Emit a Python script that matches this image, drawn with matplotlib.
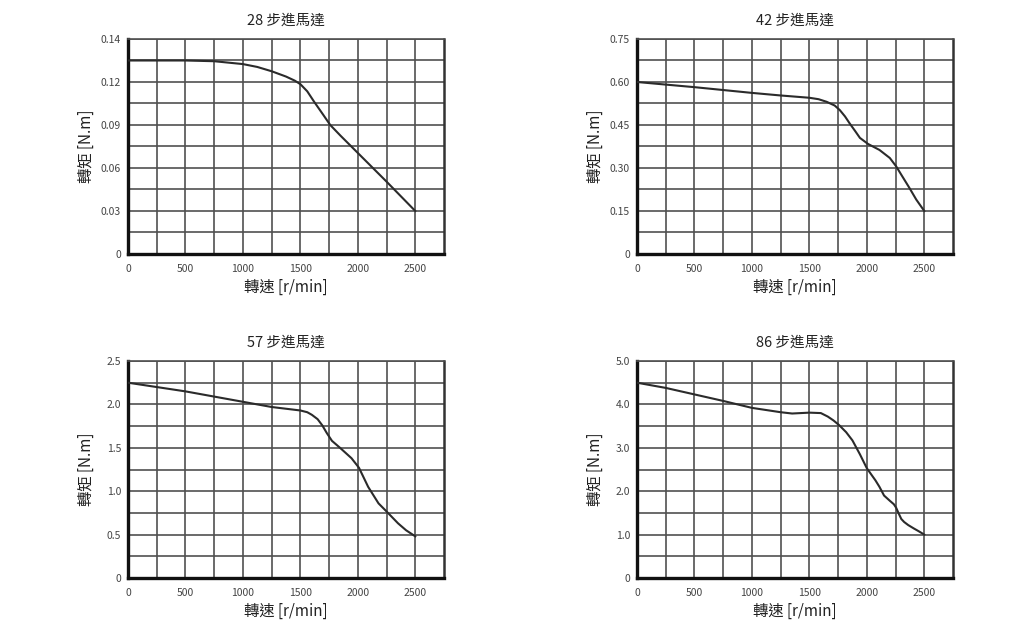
import matplotlib
matplotlib.use("Agg")
import matplotlib.pyplot as plt
import numpy as np

plt.rcParams["font.family"] = ["Noto Sans CJK TC", "DejaVu Sans"]

# ---- data ----
titles = ["28 步進馬達", "42 步進馬達", "57 步進馬達", "86 步進馬達"]

speed_28 = [0, 250, 500, 750, 1000, 1125, 1250, 1375, 1450, 1500, 1560, 1620, 1700,
            1760, 1850, 2000, 2250, 2500]
torque_28 = [0.135, 0.135, 0.135, 0.1345, 0.1325, 0.1305, 0.1275, 0.1238, 0.1210,
             0.1185, 0.1135, 0.1062, 0.097, 0.090, 0.0825, 0.0705, 0.0505, 0.030]

speed_42 = [0, 250, 500, 750, 1000, 1250, 1500, 1580, 1650, 1720, 1765, 1810, 1850,
            1900, 1940, 2010, 2110, 2200, 2255, 2310, 2370, 2430, 2500]
torque_42 = [0.600, 0.591, 0.582, 0.572, 0.562, 0.553, 0.545, 0.540, 0.531, 0.518,
             0.502, 0.480, 0.456, 0.428, 0.405, 0.384, 0.363, 0.335, 0.306, 0.270,
             0.231, 0.190, 0.150]

speed_57 = [0, 250, 500, 750, 1000, 1250, 1500, 1560, 1600, 1650, 1690, 1730, 1775,
            1845, 1945, 2010, 2050, 2090, 2180, 2255, 2350, 2420, 2500]
torque_57 = [2.25, 2.20, 2.15, 2.09, 2.03, 1.97, 1.93, 1.91, 1.88, 1.83, 1.76, 1.67,
             1.58, 1.50, 1.38, 1.27, 1.16, 1.05, 0.86, 0.76, 0.63, 0.55, 0.48]

speed_86 = [0, 250, 500, 750, 1000, 1250, 1350, 1500, 1600, 1660, 1710, 1760, 1820,
            1875, 1940, 2000, 2040, 2075, 2110, 2150, 2200, 2235, 2255, 2275, 2300,
            2325, 2360, 2410, 2450, 2500]
torque_86 = [4.50, 4.38, 4.23, 4.08, 3.92, 3.82, 3.79, 3.81, 3.80, 3.72, 3.63, 3.52,
             3.36, 3.17, 2.85, 2.53, 2.38, 2.25, 2.10, 1.90, 1.78, 1.70, 1.62, 1.50,
             1.36, 1.29, 1.22, 1.14, 1.08, 1.00]

x_ticks = [0, 500, 1000, 1500, 2000, 2500]
x_tick_labels = ["0", "500", "1000", "1500", "2000", "2500"]

y_ticks_28 = [0, 0.03, 0.06, 0.09, 0.12, 0.15]
y_labels_28 = ["0", "0.03", "0.06", "0.09", "0.12", "0.14"]
y_ticks_42 = [0, 0.15, 0.30, 0.45, 0.60, 0.75]
y_labels_42 = ["0", "0.15", "0.30", "0.45", "0.60", "0.75"]
y_ticks_57 = [0, 0.5, 1.0, 1.5, 2.0, 2.5]
y_labels_57 = ["0", "0.5", "1.0", "1.5", "2.0", "2.5"]
y_ticks_86 = [0, 1.0, 2.0, 3.0, 4.0, 5.0]
y_labels_86 = ["0", "1.0", "2.0", "3.0", "4.0", "5.0"]

panels = [
    (titles[0], speed_28, torque_28, y_ticks_28, y_labels_28),
    (titles[1], speed_42, torque_42, y_ticks_42, y_labels_42),
    (titles[2], speed_57, torque_57, y_ticks_57, y_labels_57),
    (titles[3], speed_86, torque_86, y_ticks_86, y_labels_86),
]

W, H = 1013, 632
boxes = [
    (128, 39, 444, 254),
    (637, 39, 953, 254),
    (128, 361, 444, 578),
    (637, 361, 953, 578),
]

fig = plt.figure(figsize=(W / 100, H / 100), dpi=100)
fig.patch.set_facecolor("white")

for (title, xs, ys, yt, yl), (x0, y0, x1, y1) in zip(panels, boxes):
    ax = fig.add_axes([x0 / W, 1 - y1 / H, (x1 - x0) / W, (y1 - y0) / H])
    top = yt[-1]
    step = yt[1] / 2
    ax.set_xlim(0, 2750)
    ax.set_ylim(0, top)
    ax.set_xticks(x_ticks)
    ax.set_xticklabels(x_tick_labels)
    ax.set_xticks(np.arange(250, 2750, 500), minor=True)
    ax.set_yticks(yt)
    ax.set_yticklabels(yl)
    ax.set_yticks([t + step for t in yt[:-1]], minor=True)
    ax.grid(which="both", color="#505050", lw=1.2)
    ax.set_axisbelow(True)
    ax.tick_params(which="both", length=0)
    ax.tick_params(axis="x", pad=7, labelsize=7.5, labelcolor="#444444")
    ax.tick_params(axis="y", pad=5, labelsize=7.5, labelcolor="#444444")
    for side in ["left", "bottom"]:
        ax.spines[side].set_linewidth(2.4)
        ax.spines[side].set_color("#111111")
    ax.spines["right"].set_linewidth(1.8)
    ax.spines["right"].set_color("#333333")
    ax.spines["top"].set_linewidth(1.2)
    ax.spines["top"].set_color("#505050")

    ax.plot(xs, ys, color="#2b2b2b", lw=1.5, solid_joinstyle="round", zorder=3)

    ax.set_title(title, fontsize=10.5, color="#222222", pad=10)
    ax.set_xlabel("轉速 [r/min]", fontsize=11, color="#222222", labelpad=4)
    ax.set_ylabel("轉矩 [N.m]", fontsize=11, color="#222222")
    ax.yaxis.set_label_coords(-0.105, 0.5)

fig.savefig("out.png", dpi=100)
